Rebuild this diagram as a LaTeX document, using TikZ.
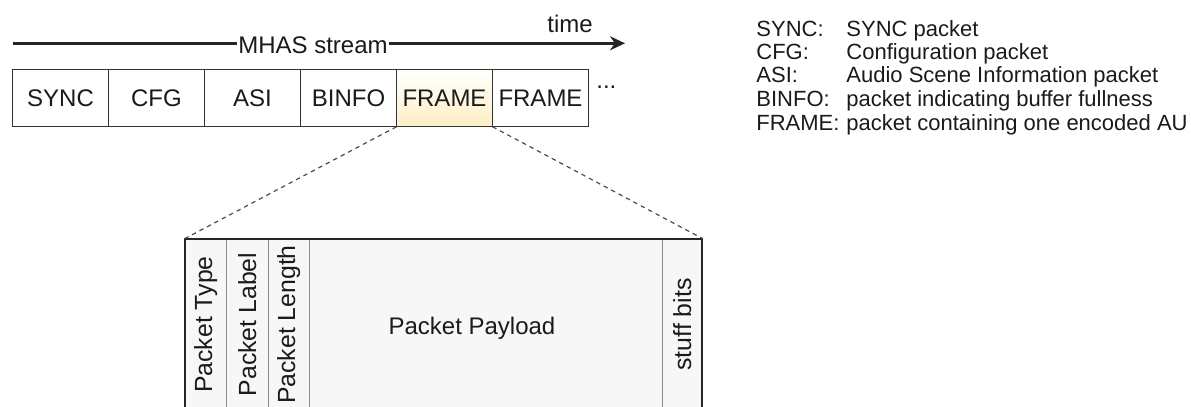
\documentclass[tikz,border=0pt]{standalone}
\usepackage{fontspec}
\setsansfont{Liberation Sans}
\usetikzlibrary{
    arrows.meta,
    positioning
}
\definecolor{pktline}{HTML}{333333}
\definecolor{framefill}{HTML}{FDEEC4}
\definecolor{fieldfill}{HTML}{F7F7F7}
\definecolor{fieldline}{HTML}{8C8C8C}
\definecolor{textdark}{HTML}{1A1A1A}

\begin{document}
\begin{tikzpicture}[
    x=0.5pt, y=-0.5pt,
    font=\sffamily\fontsize{12}{14}\selectfont,
    every node/.style={text=textdark},
    pkt/.style={
        rectangle,
        draw=pktline,
        line width=0.6pt,
        minimum width=48pt,
        minimum height=28.75pt,
        inner sep=0pt,
        outer sep=0pt
    },
    hilite/.style={
        top color=white,
        bottom color=framefill
    },
    field/.style={
        rectangle,
        draw=fieldline,
        line width=0.4pt,
        fill=fieldfill,
        minimum height=86pt,
        inner sep=0pt,
        outer sep=0pt
    },
    narrow/.style={
        field,
        minimum width=20.75pt
    },
    fieldtext/.style={
        rotate=90,
        font=\sffamily\fontsize{12.4}{14}\selectfont
    },
    legend/.style={
        anchor=base west,
        inner sep=0pt,
        font=\sffamily\fontsize{11}{13}\selectfont
    },
    timeline/.style={
        -{Stealth[length=7.5pt,width=7pt]},
        line width=1.3pt,
        draw=black!85
    },
    zoomline/.style={
        dash pattern=on 2.2pt off 2pt,
        line width=0.6pt,
        draw=black!70
    },
    outerframe/.style={
        line width=1pt,
        draw=black!85
    }
]
\useasboundingbox (0,0) rectangle (1191,407);

% =====================================================
% Stream arrow
% =====================================================

\coordinate (tstart) at (12.7,43.3);
\coordinate (tend) at (625,43.3);

\draw[timeline] (tstart) -- (tend);

\node[fill=white, inner sep=0.6pt] (mhas) at (313,45)
{MHAS stream};

\node (time) at (570,24)
{time};

% =====================================================
% Packet row
% =====================================================

\node[pkt] (sync) at (60.5,98)
{SYNC};

\node[pkt, right=0pt of sync] (cfg)
{CFG};

\node[pkt, right=0pt of cfg] (asi)
{ASI};

\node[pkt, right=0pt of asi] (binfo)
{BINFO};

\node[pkt, hilite, right=0pt of binfo] (frame1)
{FRAME};

\node[pkt, right=0pt of frame1] (frame2)
{FRAME};

\node[anchor=base west, inner sep=0pt] (more) at (596,89)
{...};

% =====================================================
% Frame packet fields
% =====================================================

\node[narrow] (ptype) at (205.75,324.5) {};
\node[narrow, right=0pt of ptype] (plabel) {};
\node[narrow, right=0pt of plabel] (plength) {};
\node[field, minimum width=176.2pt, right=0pt of plength] (payload) {};
\node[narrow, minimum width=20.25pt, right=0pt of payload] (stuff) {};

\draw[outerframe] (ptype.north west) rectangle (stuff.south east);

\node[fieldtext] at (ptype) {Packet Type};
\node[fieldtext] at (plabel) {Packet Label};
\node[fieldtext] at (plength) {Packet Length};
\node at (472,328) {Packet Payload};
\node[fieldtext] at (stuff) {stuff bits};

% =====================================================
% Zoom lines
% =====================================================

\draw[zoomline] (frame1.south west) -- (ptype.north west);
\draw[zoomline] (frame1.south east) -- (stuff.north east);

% =====================================================
% Legend
% =====================================================

\node[legend] (lsync) at (756,36) {SYNC:};
\node[legend] (lcfg) at (756,59.5) {CFG:};
\node[legend] (lasi) at (756,83) {ASI:};
\node[legend] (lbinfo) at (756,106.5) {BINFO:};
\node[legend] (lframe) at (756,130) {FRAME:};

\node[legend] (dsync) at (846,36) {SYNC packet};
\node[legend] (dcfg) at (846,59.5) {Configuration packet};
\node[legend] (dasi) at (846,83) {Audio Scene Information packet};
\node[legend] (dbinfo) at (846,106.5) {packet indicating buffer fullness};
\node[legend] (dframe) at (846,130) {packet containing one encoded AU};

\end{tikzpicture}
\end{document}
